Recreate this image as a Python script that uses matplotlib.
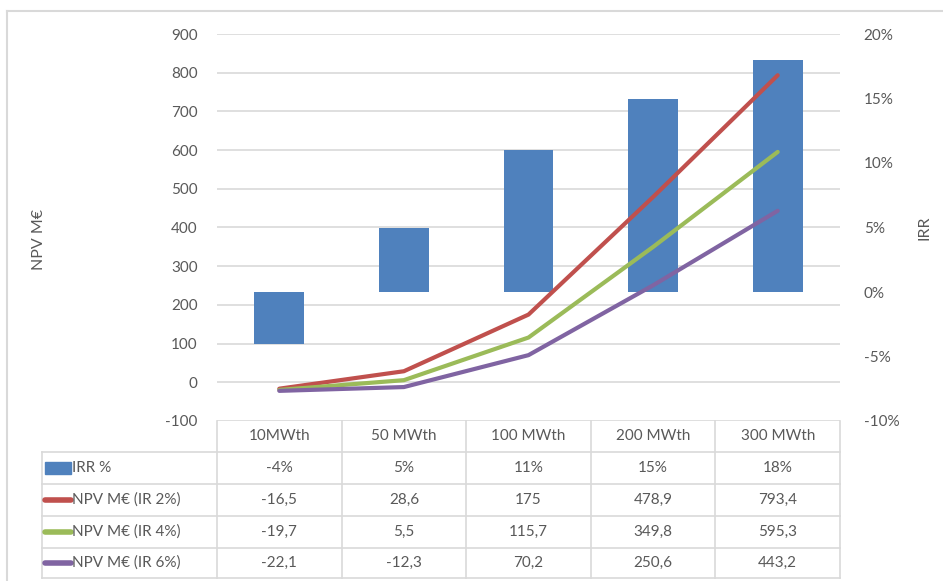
import numpy as np
import matplotlib.pyplot as plt
from matplotlib.patches import Rectangle
from matplotlib.lines import Line2D

plt.rcParams['font.family'] = ['Lato', 'DejaVu Sans']
plt.rcParams['axes.unicode_minus'] = False

categories = ['10MWth', '50 MWth', '100 MWth', '200 MWth', '300 MWth']
irr = [-4, 5, 11, 15, 18]
npv_ir2 = [-16.5, 28.6, 175, 478.9, 793.4]
npv_ir4 = [-19.7, 5.5, 115.7, 349.8, 595.3]
npv_ir6 = [-22.1, -12.3, 70.2, 250.6, 443.2]
irr_labels = ['-4%', '5%', '11%', '15%', '18%']
npv_ir2_labels = ['-16,5', '28,6', '175', '478,9', '793,4']
npv_ir4_labels = ['-19,7', '5,5', '115,7', '349,8', '595,3']
npv_ir6_labels = ['-22,1', '-12,3', '70,2', '250,6', '443,2']

blue, red, green, purple = '#4F81BD', '#C0504D', '#9BBB59', '#8064A2'
txt = '#595959'
grid = '#D9D9D9'

W, H = 943, 581
fig = plt.figure(figsize=(W / 100, H / 100), dpi=100)

# chart area border (only top/left visible in crop)
fig.add_artist(Line2D([7 / W, 1], [1 - 11 / H] * 2, color=grid, lw=1.5, transform=fig.transFigure))
fig.add_artist(Line2D([7 / W] * 2, [0, 1 - 11 / H], color=grid, lw=1.5, transform=fig.transFigure))

pos = [217 / W, 1 - 421 / H, 623 / W, 387 / H]
npv_lim = (-100, 900)
npv_ticks = range(-100, 901, 100)

# gridlines behind everything
axg = fig.add_axes(pos)
axg.set_ylim(*npv_lim)
axg.set_yticks(npv_ticks)
axg.set_xticks([])
axg.yaxis.grid(True, color=grid, lw=1.2)
axg.tick_params(length=0, labelleft=False)
for s in axg.spines.values():
    s.set_visible(False)

ax = fig.add_axes(pos)
ax2 = ax.twinx()
x = np.arange(len(categories))

ax2.bar(x, irr, width=0.4, color=blue, zorder=2)
ax2.set_ylim(-10, 20)
ax2.set_yticks(range(-10, 21, 5))
ax2.set_yticklabels([f'{v}%' for v in range(-10, 21, 5)])
ax2.patch.set_visible(False)

ax.set_zorder(ax2.get_zorder() + 1)
ax.patch.set_visible(False)
for series, c in ((npv_ir2, red), (npv_ir4, green), (npv_ir6, purple)):
    ax.plot(x, series, color=c, lw=3, solid_capstyle='round', zorder=3)

ax.set_ylim(*npv_lim)
ax.set_yticks(npv_ticks)
ax.set_xlim(-0.5, len(categories) - 0.5)
ax.set_xticks([])

for a in (ax, ax2):
    for s in a.spines.values():
        s.set_visible(False)
    a.tick_params(length=0, labelsize=11, labelcolor=txt)
ax.tick_params(axis='y', pad=14)
ax2.tick_params(axis='y', pad=17)

ax.set_ylabel('NPV M€', fontsize=11.5, color=txt)
ax.yaxis.set_label_coords(-0.275, 0.47)
ax2.set_ylabel('IRR', fontsize=11.5, color=txt, rotation=90)
ax2.yaxis.set_label_coords(1.125, 0.5)

# data table
tr = ax.get_xaxis_transform()
rows_y = [0, -0.0801, -0.1628, -0.2455, -0.3282, -0.4057]
left = -0.5 - 175 / 124.6
right = len(categories) - 0.5
lkw = dict(color=grid, lw=1.2, transform=tr, clip_on=False)
for yy in rows_y[1:]:
    ax.add_line(Line2D([left, right], [yy, yy], **lkw))
for xx in np.arange(-0.5, right + 0.01, 1):
    ax.add_line(Line2D([xx, xx], [0, rows_y[-1]], **lkw))
ax.add_line(Line2D([left, left], [rows_y[1], rows_y[-1]], **lkw))

tkw = dict(transform=tr, ha='center', va='center', color=txt, fontsize=11, clip_on=False)
for i, c in enumerate(categories):
    ax.text(i, (rows_y[0] + rows_y[1]) / 2, c, **tkw)

rows = [
    ('IRR %', irr_labels, blue, 'bar'),
    ('NPV M€ (IR 2%)', npv_ir2_labels, red, 'line'),
    ('NPV M€ (IR 4%)', npv_ir4_labels, green, 'line'),
    ('NPV M€ (IR 6%)', npv_ir6_labels, purple, 'line'),
]
key_x0 = left + 3 / 124.6
key_x1 = left + 29 / 124.6
for r, (name, vals, c, kind) in enumerate(rows):
    ym = (rows_y[r + 1] + rows_y[r + 2]) / 2
    if kind == 'bar':
        ax.add_patch(Rectangle((key_x0, ym - 0.016), key_x1 - key_x0, 0.032, color=c,
                               transform=tr, clip_on=False))
    else:
        ax.add_line(Line2D([key_x0, key_x1], [ym, ym], color=c, lw=4,
                           solid_capstyle='round', transform=tr, clip_on=False))
    ax.text(key_x1 + 1 / 124.6, ym, name, transform=tr, ha='left', va='center',
            color=txt, fontsize=11, clip_on=False)
    for i, v in enumerate(vals):
        ax.text(i, ym, v, **tkw)

fig.savefig('out.png', dpi=100)
